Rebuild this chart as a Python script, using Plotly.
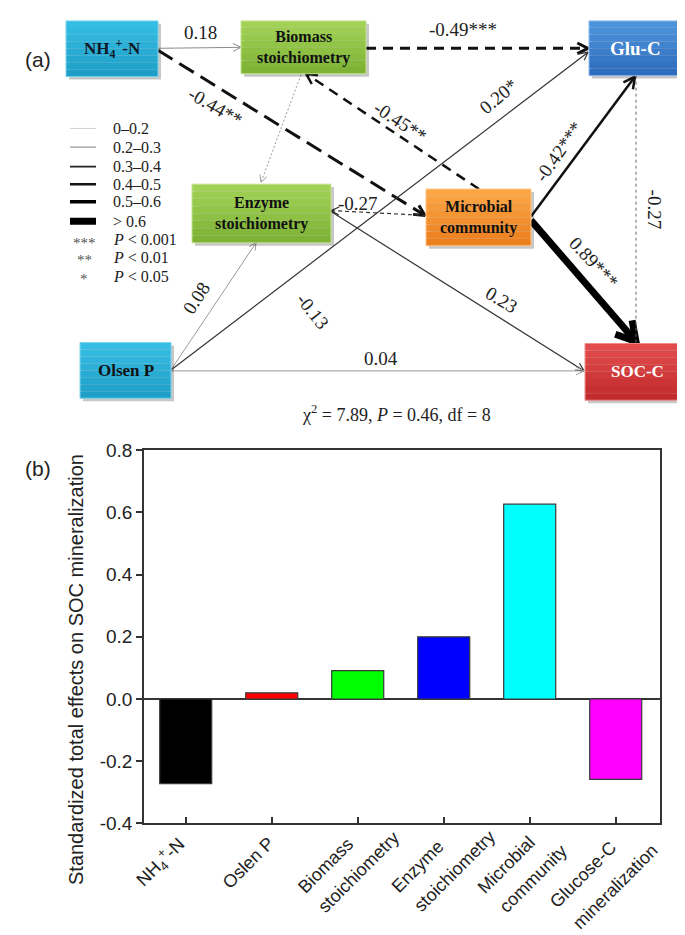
import math
import plotly.graph_objects as go

W, H = 685, 935

# ---------- (b) standardized total effects ----------
factor_lines = [
    ["NH<sub>4</sub><sup>+</sup>-N"],
    ["Oslen P"],
    ["Biomass", "stoichiometry"],
    ["Enzyme", "stoichiometry"],
    ["Microbial", "community"],
    ["Glucose-C", "mineralization"],
]
total_effects = [-0.272, 0.02, 0.091, 0.20, 0.626, -0.258]
bar_colors = ["#000000", "#ff0000", "#00ff00", "#0000ff", "#00ffff", "#ff00ff"]
y_ticks = [-0.4, -0.2, 0.0, 0.2, 0.4, 0.6, 0.8]
y_title = "Standardized total effects on SOC mineralization"

# ---------- (a) path model ----------
node_text = ["NH<sub>4</sub><sup>+</sup>-N", "Biomass<br>stoichiometry", "Glu-C",
             "Enzyme<br>stoichiometry", "Microbial<br>community", "Olsen P", "SOC-C"]
path_coefs = ["0.18", "-0.49***", "-0.44**", "-0.45**", "-0.27", "0.20*", "-0.13",
              "-0.42***", "0.89***", "-0.27", "0.23", "0.08", "0.04"]
weight_classes = ["0–0.2", "0.2–0.3", "0.3–0.4", "0.4–0.5", "0.5–0.6", "&gt; 0.6"]
sig_marks = ["***", "**", "*"]
sig_levels = ["<i>P</i> &lt; 0.001", "<i>P</i> &lt; 0.01", "<i>P</i> &lt; 0.05"]
fit_text = "χ<sup>2</sup> = 7.89, <i>P</i> = 0.46, df = 8"

# layout of the diagram (pixel space of the top panel)
TOP_H = 420
boxes = [  # x0, y0, x1, y1, top colour, bottom colour, font colour, font size
    (58, 3, 150, 60, "#35bde3", "#1f9fc8", "#101828", 17),
    (233, 3, 358, 57, "#a2d255", "#7db235", "#111111", 16),
    (581, 3, 674, 59, "#4d93dc", "#2e6dbd", "#ffffff", 19),
    (184, 170, 323, 230, "#a2d255", "#7db235", "#111111", 16),
    (418, 175, 523, 233, "#fca545", "#ec7f1e", "#111111", 16),
    (72, 332, 163, 389, "#35bde3", "#1f9fc8", "#111111", 17),
    (577, 333, 682, 391, "#e34c4c", "#c22b2b", "#ffffff", 17),
]
# x0, y0, x1 (tip), y1 (tip), width, colour, dash, head length (0 = no head)
edges = [
    (150, 31, 233, 30, 1.0, "#8c8c8c", "solid", 9),
    (358, 31, 580, 31, 3.0, "#111111", "10px,7px", 12),
    (150, 33, 417, 202, 3.0, "#111111", "17px,8px", 12),
    (471, 175, 298, 57, 2.5, "#111111", "10px,7px", 12),
    (293, 58, 253, 168, 1.0, "#9a9a9a", "2px,2px", 8),
    (418, 202, 323, 197, 1.2, "#333333", "4px,3px", 9),
    (163, 360, 580, 35, 1.2, "#333333", "solid", 9),
    (523, 203, 627, 60, 2.5, "#111111", "solid", 13),
    (523, 207, 628, 331, 7.0, "#000000", "solid", 22),
    (628, 59, 628, 332, 1.0, "#666666", "3px,3px", 0),
    (323, 198, 576, 361, 1.2, "#333333", "solid", 9),
    (163, 360, 248, 230, 1.0, "#999999", "solid", 8),
    (163, 361, 576, 361, 1.0, "#999999", "solid", 9),
]
# label centre x, y, angle for each path coefficient
coef_pos = [(192, 15, 0), (455, 12, 0), (207, 91, 30), (392, 106, 33), (350, 190, 0),
            (490, 80, -40), (305, 300, 52), (551, 137, -55), (586, 250, 47),
            (646, 196, 90), (493, 288, 31), (188, 287, -57), (373, 348, 0)]
legend_styles = [("#cfcfcf", 1.0), ("#999999", 1.2), ("#222222", 1.6),
                 ("#111111", 2.5), ("#000000", 3.5), ("#000000", 7.0)]
legend_y = [113, 132, 152, 170, 188, 208]
sig_y = [227, 245, 264]

# centres (px) of the rotated x tick label lines in panel (b)
tick_label_pos = [
    [(152, 864)],
    [(240, 864)],
    [(317, 867), (351, 874)],
    [(409, 868), (447, 873)],
    [(498, 866), (525, 881)],
    [(575, 877), (607, 889)],
]

SERIF = "Liberation Serif"
SANS = "Liberation Sans"


def px(x):
    return x / W


def py(y):
    return 1 - y / H


def mix(c1, c2, t):
    a = [int(c1[i:i + 2], 16) for i in (1, 3, 5)]
    b = [int(c2[i:i + 2], 16) for i in (1, 3, 5)]
    return "#%02x%02x%02x" % tuple(round(a[k] + (b[k] - a[k]) * t) for k in range(3))


fig = go.Figure()
shapes = []
annotations = []

# bars
fig.add_trace(go.Bar(
    x=list(range(len(total_effects))),
    y=total_effects,
    width=0.605,
    marker=dict(color=bar_colors, line=dict(color="#3a3a3a", width=1.2)),
    hoverinfo="skip",
))

# diagram edges
for (x0, y0, x1, y1, w, col, dash, hl) in edges:
    dx, dy = x1 - x0, y1 - y0
    n = math.hypot(dx, dy)
    ux, uy = dx / n, dy / n
    back = w * 0.6 if hl else 0
    fig.add_trace(go.Scatter(
        x=[x0, x1 - ux * back], y=[y0, y1 - uy * back], mode="lines",
        line=dict(color=col, width=w, dash=dash),
        xaxis="x2", yaxis="y2", hoverinfo="skip",
    ))
    if hl:
        ang = math.radians(30 if w > 5 else 27)
        hx, hy = [], []
        for s in (1, -1):
            c, si = math.cos(s * ang), math.sin(s * ang)
            rx = -ux * c + uy * si
            ry = -ux * si - uy * c
            hx.append(x1 + rx * hl)
            hy.append(y1 + ry * hl)
        fig.add_trace(go.Scatter(
            x=[hx[0], x1, hx[1]], y=[hy[0], y1, hy[1]], mode="lines",
            line=dict(color=col, width=max(w, 1.0)),
            xaxis="x2", yaxis="y2", hoverinfo="skip",
        ))

# legend of line weights
for (col, w), yy in zip(legend_styles, legend_y):
    fig.add_trace(go.Scatter(x=[62, 88], y=[yy, yy], mode="lines",
                             line=dict(color=col, width=w),
                             xaxis="x2", yaxis="y2", hoverinfo="skip"))
for txt, yy in zip(weight_classes, legend_y):
    annotations.append(dict(x=103, y=yy, xref="x2", yref="y2", text=txt, showarrow=False,
                            xanchor="left", yanchor="middle",
                            font=dict(family=SERIF, size=16, color="#222")))
for mark, lvl, yy in zip(sig_marks, sig_levels, sig_y):
    annotations.append(dict(x=76, y=yy + 3, xref="x2", yref="y2", text=mark, showarrow=False,
                            xanchor="center", yanchor="middle",
                            font=dict(family=SERIF, size=15, color="#555")))
    annotations.append(dict(x=103, y=yy, xref="x2", yref="y2", text=lvl, showarrow=False,
                            xanchor="left", yanchor="middle",
                            font=dict(family=SERIF, size=16, color="#222")))

# boxes
for (x0, y0, x1, y1, ctop, cbot, fc, fs), txt in zip(boxes, node_text):
    shapes.append(dict(type="rect", xref="x2", yref="y2", x0=x0 + 3, y0=y0 + 3,
                       x1=x1 + 3, y1=y1 + 3, fillcolor="rgba(0,0,0,0.22)",
                       line=dict(width=0), layer="above"))
    nb = 8
    for k in range(nb):
        ya = y0 + (y1 - y0) * k / nb
        yb = y0 + (y1 - y0) * (k + 1) / nb
        shapes.append(dict(type="rect", xref="x2", yref="y2", x0=x0, y0=ya, x1=x1, y1=yb,
                           fillcolor=mix(ctop, cbot, k / (nb - 1)),
                           line=dict(width=0), layer="above"))
    shapes.append(dict(type="rect", xref="x2", yref="y2", x0=x0, y0=y0, x1=x1, y1=y1,
                       line=dict(color=mix(ctop, "#ffffff", 0.35), width=1), layer="above"))
    annotations.append(dict(x=(x0 + x1) / 2, y=(y0 + y1) / 2, xref="x2", yref="y2",
                            text="<b>%s</b>" % txt, showarrow=False,
                            xanchor="center", yanchor="middle",
                            font=dict(family=SERIF, size=fs, color=fc)))

# path coefficients
for txt, (x, y, a) in zip(path_coefs, coef_pos):
    annotations.append(dict(x=x, y=y, xref="x2", yref="y2", text=txt, showarrow=False,
                            textangle=a, xanchor="center", yanchor="middle",
                            font=dict(family=SERIF, size=19, color="#222")))

annotations.append(dict(x=388, y=405, xref="x2", yref="y2", text=fit_text, showarrow=False,
                        xanchor="center", yanchor="middle",
                        font=dict(family=SERIF, size=18, color="#222")))

# panel letters
annotations.append(dict(x=px(15), y=py(29), xref="paper", yref="paper", text="(a)",
                        showarrow=False, font=dict(family=SANS, size=21, color="#222")))
annotations.append(dict(x=px(15), y=py(461), xref="paper", yref="paper", text="(b)",
                        showarrow=False, font=dict(family=SANS, size=21, color="#222")))

# y axis title of (b)
annotations.append(dict(x=px(68), y=py(667), xref="paper", yref="paper", text=y_title,
                        textangle=-90, showarrow=False, xanchor="center", yanchor="middle",
                        font=dict(family=SANS, size=20, color="#222")))

# rotated x tick labels of (b)
for lines, pos in zip(factor_lines, tick_label_pos):
    for txt, (x, y) in zip(lines, pos):
        annotations.append(dict(x=px(x), y=py(y), xref="paper", yref="paper", text=txt,
                                textangle=-45, showarrow=False, xanchor="center",
                                yanchor="middle",
                                font=dict(family=SANS, size=18, color="#222")))

fig.update_layout(
    width=W, height=H,
    margin=dict(l=0, r=0, t=0, b=0),
    paper_bgcolor="white", plot_bgcolor="white",
    showlegend=False,
    shapes=shapes,
    annotations=annotations,
    xaxis=dict(domain=[136 / W, 652 / W], range=[-0.485, 5.515],
               tickvals=list(range(6)), showticklabels=False,
               ticks="inside", ticklen=7, tickwidth=1.5, tickcolor="#333",
               showline=True, linecolor="#333", linewidth=1.5, mirror=True,
               showgrid=False, zeroline=False, anchor="y", fixedrange=True),
    yaxis=dict(domain=[1 - 824 / H, 1 - 442 / H], range=[-0.4, 0.8],
               tickvals=y_ticks, ticktext=["%.1f" % v for v in y_ticks],
               ticks="outside", ticklen=6, tickwidth=1.5, tickcolor="#333",
               tickfont=dict(family=SANS, size=19, color="#222"),
               showline=True, linecolor="#333", linewidth=1.5, mirror=True,
               showgrid=False, zeroline=True, zerolinecolor="#333", zerolinewidth=1.5,
               anchor="x", fixedrange=True),
    xaxis2=dict(domain=[0, 1], range=[0, W], visible=False, anchor="y2", fixedrange=True),
    yaxis2=dict(domain=[1 - TOP_H / H, 1], range=[TOP_H, 0], visible=False,
                anchor="x2", fixedrange=True),
)

fig.write_html("out.html")
